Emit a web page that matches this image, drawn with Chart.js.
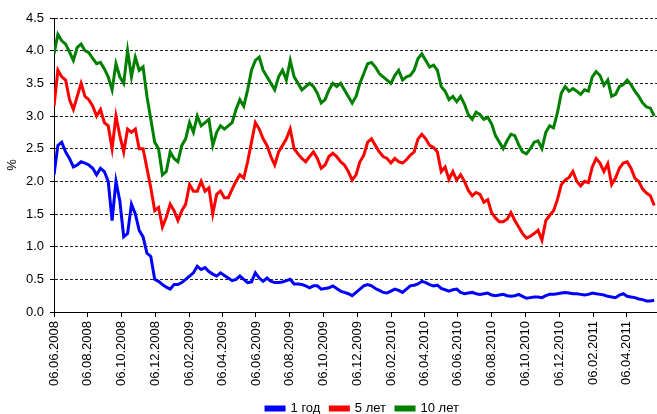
<!DOCTYPE html>
<html>
<head>
<meta charset="utf-8">
<script src="https://cdn.jsdelivr.net/npm/chart.js@4.4.1/dist/chart.umd.min.js"></script>
<style>
  html, body { margin: 0; padding: 0; background: #fff; }
  #wrap { width: 657px; height: 414px; }
</style>
</head>
<body>
<div id="wrap"><canvas id="chart" width="657" height="414"></canvas></div>
<script>
// weekly readings starting 06.06.2008
const startDate = "06.06.2008";
const stepDays = 7;
const lastDay = 1090;

const tickLabels = [
    "06.06.2008", "06.08.2008", "06.10.2008", "06.12.2008",
    "06.02.2009", "06.04.2009", "06.06.2009", "06.08.2009",
    "06.10.2009", "06.12.2009", "06.02.2010", "06.04.2010",
    "06.06.2010", "06.08.2010", "06.10.2010", "06.12.2010",
    "06.02.2011", "06.04.2011"
];

const seriesNames = ["1 год", "5 лет", "10 лет"];

const oneYear = [
    2.1, 2.55, 2.6, 2.45, 2.35, 2.22, 2.25, 2.3, 2.28, 2.25,
    2.2, 2.1, 2.2, 2.15, 2.0, 1.4, 2.0, 1.7, 1.15, 1.2,
    1.65, 1.5, 1.25, 1.15, 0.9, 0.85, 0.5, 0.47, 0.42, 0.38,
    0.35, 0.42, 0.42, 0.45, 0.5, 0.55, 0.6, 0.7, 0.65, 0.68,
    0.62, 0.58, 0.55, 0.6, 0.56, 0.52, 0.48, 0.5, 0.55, 0.5,
    0.45, 0.46, 0.6, 0.52, 0.47, 0.52, 0.47, 0.45, 0.45, 0.46,
    0.48, 0.5, 0.43, 0.43, 0.42, 0.4, 0.37, 0.4, 0.4, 0.35,
    0.36, 0.37, 0.4, 0.36, 0.32, 0.3, 0.28, 0.25, 0.3, 0.35,
    0.4, 0.42, 0.4, 0.36, 0.33, 0.3, 0.29, 0.32, 0.35, 0.33,
    0.3, 0.35, 0.4, 0.41, 0.43, 0.47, 0.45, 0.42, 0.4, 0.41,
    0.36, 0.34, 0.32, 0.34, 0.35, 0.3, 0.28, 0.29, 0.3, 0.28,
    0.27, 0.28, 0.29, 0.26, 0.25, 0.26, 0.27, 0.25, 0.24, 0.25,
    0.27, 0.24, 0.21, 0.22, 0.23, 0.23, 0.22, 0.25, 0.27, 0.27,
    0.28, 0.29, 0.3, 0.29, 0.28, 0.28, 0.27, 0.26, 0.27, 0.29,
    0.28, 0.27, 0.26, 0.24, 0.23, 0.22, 0.26, 0.28, 0.24, 0.23,
    0.22, 0.2, 0.19, 0.17, 0.17, 0.18
];

const fiveYears = [
    3.15, 3.7, 3.6, 3.55, 3.25, 3.1, 3.3, 3.5, 3.3, 3.25,
    3.15, 3.0, 3.1, 2.9, 2.85, 2.5, 3.0, 2.7, 2.45, 2.8,
    2.75, 2.8, 2.5, 2.5, 2.2, 1.9, 1.55, 1.6, 1.3, 1.45,
    1.65, 1.55, 1.4, 1.55, 1.65, 1.95, 1.85, 1.85, 2.0, 1.85,
    1.9, 1.5, 1.8, 1.85, 1.75, 1.75, 1.88, 2.0, 2.1, 2.05,
    2.3, 2.6, 2.9, 2.8, 2.65, 2.55, 2.38, 2.25, 2.45, 2.55,
    2.65, 2.8, 2.5, 2.42, 2.35, 2.3, 2.38, 2.45, 2.35, 2.2,
    2.25, 2.38, 2.43, 2.38, 2.3, 2.25, 2.15, 2.02, 2.1, 2.3,
    2.4, 2.6, 2.65, 2.55, 2.45, 2.38, 2.35, 2.28, 2.35, 2.3,
    2.28, 2.33, 2.4, 2.45, 2.65, 2.72, 2.65, 2.55, 2.52, 2.45,
    2.15, 2.22, 2.03, 2.15, 2.02, 2.1, 2.0, 1.86, 1.78, 1.83,
    1.8, 1.68, 1.72, 1.52, 1.44, 1.38, 1.38, 1.42, 1.52, 1.4,
    1.3, 1.2, 1.13, 1.16, 1.2, 1.25, 1.1, 1.4, 1.48, 1.55,
    1.72, 1.95, 2.02, 2.06, 2.15, 2.0, 1.93, 2.0, 1.98, 2.22,
    2.35, 2.28, 2.15, 2.27, 1.95, 2.05, 2.2, 2.28, 2.3, 2.2,
    2.05, 2.0, 1.88, 1.82, 1.78, 1.63
];

const tenYears = [
    3.95, 4.25, 4.15, 4.1, 3.98, 3.85, 4.05, 4.1, 4.0, 3.97,
    3.88, 3.8, 3.82, 3.72, 3.6, 3.4, 3.8, 3.6, 3.5, 4.0,
    3.6, 3.9, 3.7, 3.75, 3.3, 2.95, 2.6, 2.5, 2.1, 2.15,
    2.45, 2.35, 2.3, 2.55, 2.65, 2.9, 2.75, 3.0, 2.85, 2.9,
    2.95, 2.55, 2.75, 2.85, 2.8, 2.85, 2.9, 3.1, 3.25, 3.15,
    3.4, 3.7, 3.85, 3.9, 3.7, 3.6, 3.5, 3.4, 3.6, 3.7,
    3.55, 3.85, 3.6, 3.5, 3.4, 3.45, 3.5, 3.45, 3.35, 3.2,
    3.25, 3.4, 3.5, 3.45, 3.5, 3.4, 3.3, 3.2, 3.3, 3.5,
    3.65, 3.8, 3.82, 3.75, 3.65, 3.6, 3.55, 3.5, 3.62, 3.7,
    3.55, 3.6, 3.62, 3.7, 3.88, 3.95, 3.85, 3.75, 3.78, 3.7,
    3.45, 3.38, 3.25, 3.3, 3.22, 3.3, 3.18, 3.02, 2.95, 3.06,
    3.02, 2.95, 2.98, 2.88, 2.7, 2.6, 2.5, 2.62, 2.72, 2.7,
    2.56, 2.45, 2.42, 2.5, 2.6, 2.62, 2.5, 2.75, 2.85, 2.82,
    3.05, 3.35, 3.45, 3.38, 3.42, 3.38, 3.33, 3.4, 3.38, 3.6,
    3.68, 3.62, 3.47, 3.55, 3.3, 3.33, 3.45, 3.48, 3.55, 3.48,
    3.38, 3.3, 3.2, 3.14, 3.12, 3.0
];

// days between two dd.mm.yyyy strings
function dayOf(str) {
    const p = str.split(".");
    const t = Date.UTC(+p[2], +p[1] - 1, +p[0]);
    const s = startDate.split(".");
    const t0 = Date.UTC(+s[2], +s[1] - 1, +s[0]);
    return Math.round((t - t0) / 86400000);
}

const tickDays = tickLabels.map(dayOf);

function toPoints(arr) {
    return arr.map((v, i) => ({ x: i * stepDays, y: v }));
}

function makeSet(label, values, color) {
    return {
        label: label,
        data: toPoints(values),
        borderColor: color,
        backgroundColor: color,
        borderWidth: 3,
        pointRadius: 0,
        tension: 0
    };
}

const font = "'Liberation Sans', Arial, sans-serif";

// nudge the legend a little to the right, like the original
const legendShift = {
    id: "legendShift",
    afterLayout(chart) {
        const lg = chart.legend;
        if (!lg) return;
        lg.left += 7;
        lg.right += 7;
    }
};

new Chart(document.getElementById("chart"), {
    type: "line",
    data: {
        datasets: [
            makeSet(seriesNames[0], oneYear, "#0000ff"),
            makeSet(seriesNames[1], fiveYears, "#ff0000"),
            makeSet(seriesNames[2], tenYears, "#008000")
        ]
    },
    plugins: [legendShift],
    options: {
        responsive: false,
        animation: false,
        layout: {
            padding: { left: 0, right: 0, top: 18, bottom: -11 }
        },
        plugins: {
            tooltip: { enabled: false },
            legend: {
                position: "bottom",
                fullSize: false,
                labels: {
                    boxWidth: 18,
                    boxHeight: 3,
                    padding: 10,
                    color: "#000",
                    font: { family: font, size: 13 }
                }
            }
        },
        scales: {
            x: {
                type: "linear",
                min: 0,
                max: lastDay,
                afterBuildTicks: (scale) => {
                    scale.ticks = tickDays.map(d => ({ value: d }));
                },
                afterFit: (scale) => {
                    scale.height = 80;
                },
                ticks: {
                    autoSkip: false,
                    minRotation: 90,
                    maxRotation: 90,
                    padding: 4,
                    color: "#000",
                    font: { family: font, size: 13 },
                    callback: (value, index) => tickLabels[index]
                },
                grid: {
                    drawOnChartArea: false,
                    tickLength: 5,
                    color: "#000"
                },
                border: { color: "#000", width: 1 }
            },
            y: {
                min: 0,
                max: 4.5,
                afterFit: (scale) => {
                    scale.width = 54;
                },
                ticks: {
                    stepSize: 0.5,
                    padding: 6,
                    color: "#000",
                    font: { family: font, size: 13 },
                    callback: v => v.toFixed(1)
                },
                title: {
                    display: true,
                    text: "%",
                    color: "#000",
                    padding: { top: 5, bottom: 0 },
                    font: { family: font, size: 13 }
                },
                grid: {
                    color: "#222",
                    tickLength: 4,
                    tickColor: "#000",
                    tickBorderDash: [1, 0]
                },
                border: { color: "#000", width: 1, dash: [3, 2] }
            }
        }
    }
});
</script>
</body>
</html>
